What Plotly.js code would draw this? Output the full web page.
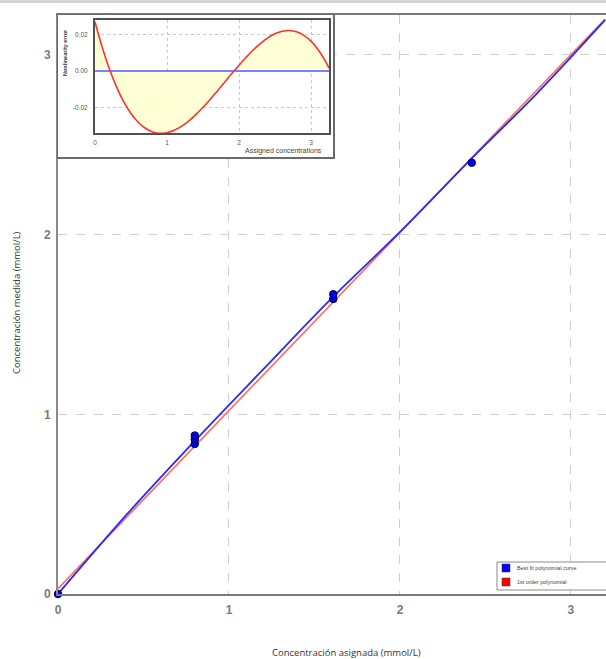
<!DOCTYPE html>
<html>
<head>
<meta charset="utf-8">
<script src="https://cdn.plot.ly/plotly-3.0.1.min.js"></script>
<style>html,body{margin:0;padding:0;background:#fff;}#chart{width:606px;height:659px;}</style>
</head>
<body>
<div id="chart"></div>
<script>
// Main calibration plot data
var pointsX = [0, 0.8, 0.8, 0.8, 1.61, 1.61, 2.42];
var pointsY = [0, 0.835, 0.86, 0.882, 1.642, 1.668, 2.40];
var bestFitX = [0, 0.4, 0.8, 1.2, 1.6, 2.0, 2.4, 2.8, 3.2];
var bestFitY = [0, 0.44, 0.852, 1.25, 1.645, 2.015, 2.405, 2.785, 3.195];
var linearX = [0, 3.2];
var linearY = [0.03, 3.2];
var mainTicks = [0, 1, 2, 3];
var mainTickText = ['0', '1', '2', '3'];

// Inset nonlinearity error data
var errX = [0, 0.1, 0.2, 0.3, 0.4, 0.5, 0.6, 0.7, 0.8, 0.9, 1.0, 1.1, 1.2, 1.3, 1.4, 1.5, 1.6, 1.7, 1.8, 1.9, 2.0, 2.1, 2.2, 2.3, 2.4, 2.5, 2.6, 2.7, 2.8, 2.9, 3.0, 3.1, 3.2, 3.25];
var errY = [0.027, 0.013, 0.0011, -0.0088, -0.0169, -0.0233, -0.0281, -0.0314, -0.0334, -0.0342, -0.0339, -0.0325, -0.0304, -0.0275, -0.0239, -0.0199, -0.0156, -0.0109, -0.0062, -0.0014, 0.0032, 0.0076, 0.0117, 0.0152, 0.0182, 0.0204, 0.0218, 0.0222, 0.0215, 0.0196, 0.0164, 0.0117, 0.0054, 0.0016];
var zeroX = [0, 3.25];
var zeroY = [0, 0];
var insetXTicks = [0, 1, 2, 3];
var insetYTicks = [-0.02, 0, 0.02];
var insetYText = ['-0.02', '0.00', '0.02'];

var legendNames = ['Best fit polynomial curve', '1st order polynomial'];
var legendColors = ['#0000ff', '#ff0000'];

var FONT = 'Liberation Sans, Arial, sans-serif';

var traces = [
  {x: linearX, y: linearY, mode: 'lines', line: {color: '#ff6a5a', width: 1.6}, showlegend: false, hoverinfo: 'skip'},
  {x: bestFitX, y: bestFitY, mode: 'lines', line: {color: '#2a2aff', width: 1.8, shape: 'spline'}, showlegend: false, hoverinfo: 'skip'},
  {x: pointsX, y: pointsY, mode: 'markers', marker: {color: '#0000ee', size: 7.5, line: {color: '#000040', width: 1}}, showlegend: false, cliponaxis: false},
  // inset box subplot (white background)
  {x: [0.5], y: [0.5], xaxis: 'x2', yaxis: 'y2', mode: 'markers', marker: {opacity: 0}, showlegend: false, hoverinfo: 'skip'},
  // inset
  {x: errX, y: errY, xaxis: 'x3', yaxis: 'y3', mode: 'lines', fill: 'tozeroy', fillcolor: '#ffffd6', line: {color: 'rgba(0,0,0,0)', width: 0, shape: 'spline'}, showlegend: false, hoverinfo: 'skip'},
  {x: zeroX, y: zeroY, xaxis: 'x3', yaxis: 'y3', mode: 'lines', line: {color: '#8080ff', width: 2}, showlegend: false, hoverinfo: 'skip'},
  {x: errX, y: errY, xaxis: 'x3', yaxis: 'y3', mode: 'lines', line: {color: '#ff3030', width: 1.6, shape: 'spline'}, showlegend: false, hoverinfo: 'skip'}
];

// paper coordinate helpers (plot area: x 58..606 px, y 15..594 px)
function px(v) { return (v - 58) / 548; }
function py(v) { return (594 - v) / 579; }

var shapes = [
  {type: 'rect', xref: 'paper', yref: 'paper', x0: -0.2, x1: 1.2, y0: py(3), y1: py(-3), fillcolor: '#d4d4d4', line: {width: 0}},
  // legend box
  {type: 'rect', xref: 'paper', yref: 'paper', x0: px(497), x1: px(612), y0: py(590), y1: py(562), fillcolor: '#ffffff', line: {color: '#8a8a8a', width: 1}},
  {type: 'rect', xref: 'paper', yref: 'paper', x0: px(502), x1: px(510), y0: py(572), y1: py(564), fillcolor: legendColors[0], line: {color: '#303030', width: 0.5}},
  {type: 'rect', xref: 'paper', yref: 'paper', x0: px(502), x1: px(510), y0: py(586), y1: py(578), fillcolor: legendColors[1], line: {color: '#303030', width: 0.5}}
];

var annotations = [
  {text: 'Concentración asignada (mmol/L)', xref: 'paper', yref: 'paper', x: px(346), y: py(652), xanchor: 'center', yanchor: 'middle', showarrow: false, font: {family: 'Open Sans, Liberation Sans, sans-serif', size: 9.5, color: '#333'}},
  {text: 'Concentración medida (mmol/L)', xref: 'paper', yref: 'paper', x: px(16), y: py(303), xanchor: 'center', yanchor: 'middle', textangle: -90, showarrow: false, font: {family: 'Open Sans, Liberation Sans, sans-serif', size: 9.5, color: '#333'}},
  {text: 'Nonlinearity error', xref: 'paper', yref: 'paper', x: px(65), y: py(53), xanchor: 'center', yanchor: 'middle', textangle: -90, showarrow: false, font: {family: FONT, size: 5.5, color: '#333', weight: 'bold'}},
  {text: 'Assigned concentrations', xref: 'paper', yref: 'paper', x: px(283), y: py(151), xanchor: 'center', yanchor: 'middle', showarrow: false, font: {family: FONT, size: 7, color: '#444'}},
  {text: legendNames[0], xref: 'paper', yref: 'paper', x: px(515), y: py(568), xanchor: 'left', yanchor: 'middle', showarrow: false, font: {family: FONT, size: 5.5, color: '#444'}},
  {text: legendNames[1], xref: 'paper', yref: 'paper', x: px(515), y: py(582), xanchor: 'left', yanchor: 'middle', showarrow: false, font: {family: FONT, size: 5.5, color: '#444'}}
];

var layout = {
  width: 606, height: 659,
  margin: {l: 58, r: 0, t: 15, b: 65, pad: 0},
  paper_bgcolor: '#ffffff', plot_bgcolor: '#ffffff',
  showlegend: false,
  xaxis: {
    range: [0, 3.205], tickvals: mainTicks, ticktext: mainTickText,
    showgrid: true, gridcolor: '#cfcfcf', griddash: 'dash', gridwidth: 1,
    zeroline: false, showline: true, linecolor: '#7a7a7a', linewidth: 2, mirror: true,
    ticks: '', ticklabelstandoff: 4,
    tickfont: {family: FONT, size: 12, color: '#7a7a7a', weight: 'bold'}
  },
  yaxis: {
    range: [0, 3.222], tickvals: mainTicks, ticktext: mainTickText,
    showgrid: true, gridcolor: '#cfcfcf', griddash: 'dash', gridwidth: 1,
    zeroline: false, showline: true, linecolor: '#8a8a8a', linewidth: 2, mirror: true,
    ticks: '', ticklabelstandoff: 3,
    tickfont: {family: FONT, size: 12, color: '#7a7a7a', weight: 'bold'}
  },
  xaxis2: {domain: [0, px(333)], range: [0, 1], anchor: 'y2', showgrid: false, zeroline: false, showticklabels: false, showline: true, mirror: true, linecolor: '#6a6a6a', linewidth: 1.5, ticks: ''},
  yaxis2: {domain: [py(157), 1], range: [0, 1], anchor: 'x2', showgrid: false, zeroline: false, showticklabels: false, showline: true, mirror: true, linecolor: '#6a6a6a', linewidth: 1.5, ticks: ''},
  xaxis3: {
    domain: [px(95), px(329)], range: [0, 3.25], anchor: 'y3', tickvals: insetXTicks,
    showgrid: true, gridcolor: '#c8c8c8', griddash: 'dot', zeroline: false,
    showline: true, mirror: true, linecolor: '#505050', linewidth: 2, ticks: '',
    ticklabelstandoff: 2, tickfont: {family: FONT, size: 6.5, color: '#555'}
  },
  yaxis3: {
    domain: [py(133), py(20)], range: [-0.034, 0.028], anchor: 'x3', tickvals: insetYTicks, ticktext: insetYText,
    showgrid: true, gridcolor: '#c8c8c8', griddash: 'dot', zeroline: false,
    showline: true, mirror: true, linecolor: '#505050', linewidth: 2, ticks: '',
    ticklabelstandoff: 4, tickfont: {family: FONT, size: 6.5, color: '#555'}
  },
  shapes: shapes,
  annotations: annotations
};

Plotly.newPlot('chart', traces, layout, {displayModeBar: false, staticPlot: true});
</script>
</body>
</html>
